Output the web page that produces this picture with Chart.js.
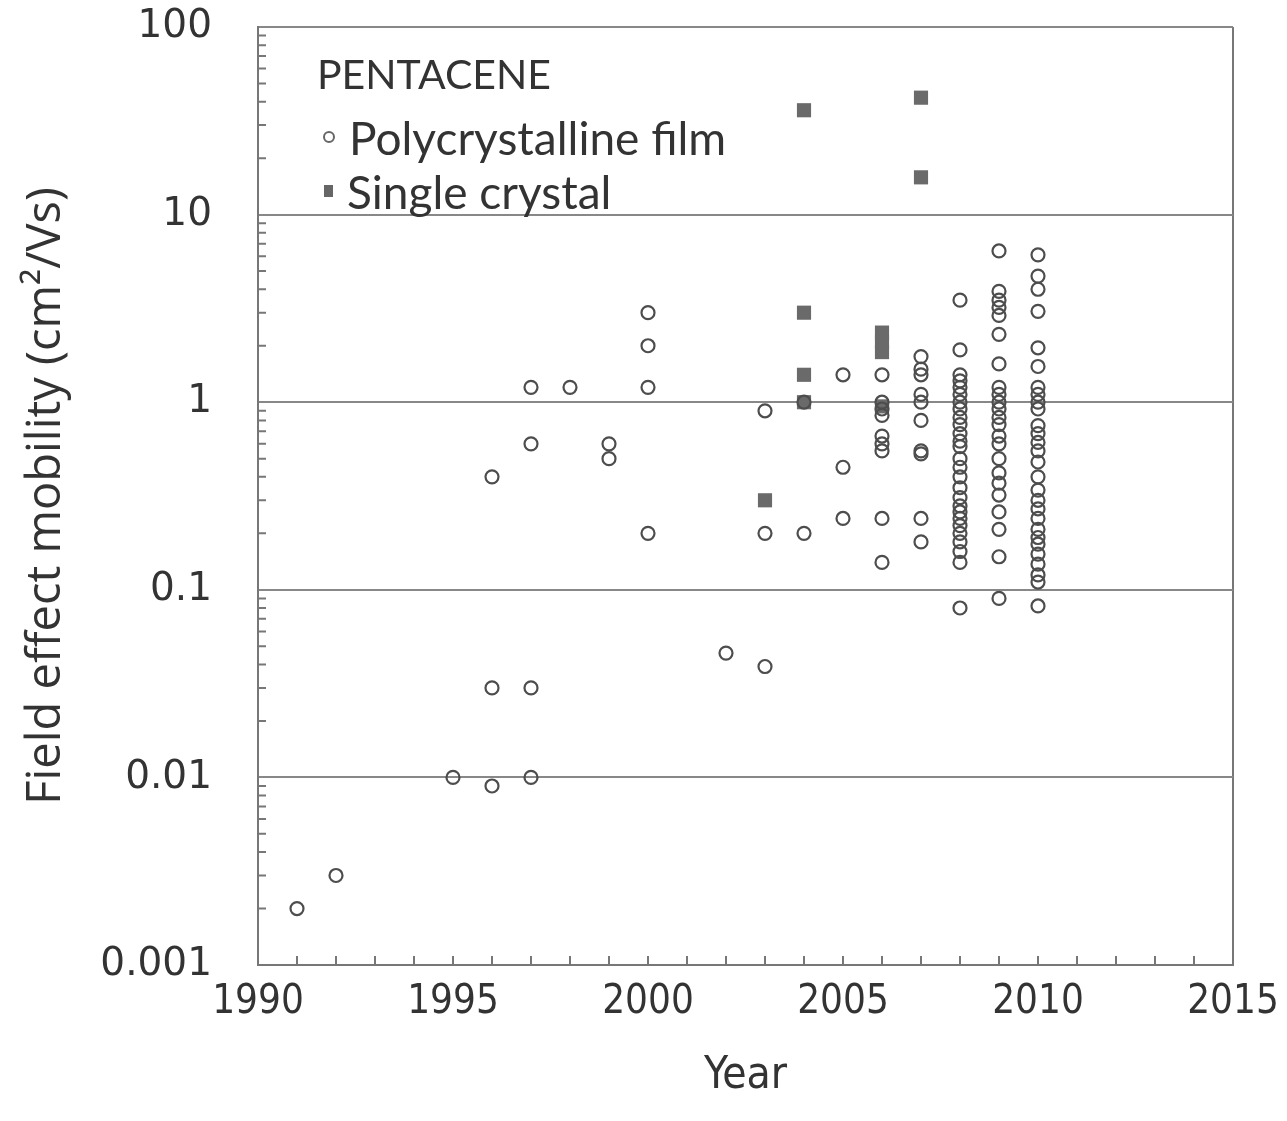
<!DOCTYPE html>
<html>
<head>
<meta charset="utf-8">
<script src="https://cdn.jsdelivr.net/npm/chart.js@4/dist/chart.umd.min.js"></script>
<style>
  body { margin: 0; background: #fff; }
  #wrap { position: relative; width: 1287px; height: 1121px; }
  #legend { position: absolute; left: 0; top: 0; font-family: Lato, "Open Sans", sans-serif; color: #333; }
  .row { position: absolute; height: 50px; display: flex; align-items: center; white-space: nowrap; }
  .circle { width: 8px; height: 8px; border: 2px solid #666; border-radius: 50%; margin-right: 14px; }
  .square { width: 9px; height: 12px; background: #666; margin-right: 14px; }
</style>
</head>
<body>
<div id="wrap">
  <canvas id="chart"></canvas>
  <div id="legend">
    <div class="row" style="left:317px; top:48px; font-size:41px;">PENTACENE</div>
    <div class="row" style="left:323px; top:112px; font-size:46px;"><span class="circle"></span>Polycrystalline film</div>
    <div class="row" style="left:324px; top:166px; font-size:46px;"><span class="square"></span>Single crystal</div>
  </div>
</div>
<script>
// polycrystalline film: years and mobility values read for each year
const polyYears = [1991, 1992, 1995, 1996, 1997, 1998, 1999, 2000, 2002, 2003, 2004, 2005, 2006, 2007, 2008, 2009, 2010];
const polyValues = [
    [0.002],
    [0.003],
    [0.01],
    [0.4, 0.03, 0.009],
    [1.2, 0.6, 0.03, 0.01],
    [1.2],
    [0.6, 0.5],
    [3.0, 2.0, 1.2, 0.2],
    [0.046],
    [0.9, 0.2, 0.039],
    [1.0, 0.2],
    [1.4, 0.45, 0.24],
    [1.4, 1.0, 0.92, 0.85, 0.66, 0.6, 0.55, 0.24, 0.14],
    [1.75, 1.5, 1.4, 1.1, 1.0, 0.8, 0.55, 0.53, 0.24, 0.18],
    [3.5, 1.9, 1.4, 1.3, 1.2, 1.1, 1.0, 0.92, 0.83, 0.76, 0.68, 0.62, 0.58, 0.5, 0.45, 0.4, 0.35, 0.31, 0.28, 0.26, 0.24, 0.22, 0.2, 0.18, 0.16, 0.14, 0.08],
    [6.4, 3.9, 3.5, 3.2, 2.9, 2.3, 1.6, 1.2, 1.1, 1.0, 0.92, 0.83, 0.76, 0.66, 0.6, 0.5, 0.42, 0.37, 0.32, 0.26, 0.21, 0.15, 0.09],
    [6.1, 4.7, 4.0, 3.05, 1.95, 1.55, 1.2, 1.1, 1.0, 0.92, 0.75, 0.68, 0.61, 0.55, 0.48, 0.4, 0.34, 0.3, 0.27, 0.24, 0.21, 0.19, 0.175, 0.155, 0.137, 0.12, 0.11, 0.082]
];

// single crystal
const singleYears = [2003, 2004, 2006, 2007];
const singleValues = [
    [0.3],
    [36, 3.0, 1.4, 1.0],
    [2.35, 2.1, 1.85, 0.95],
    [42, 15.8]
];

const xTickValues = [1990, 1995, 2000, 2005, 2010, 2015];
const yTickValues = [0.001, 0.01, 0.1, 1, 10, 100];

function toPoints(years, values) {
    const pts = [];
    years.forEach((yr, i) => values[i].forEach(v => pts.push({ x: yr, y: v })));
    return pts;
}

const narrow = '"Liberation Sans Narrow", "DejaVu Sans Condensed", sans-serif';

// small tick marks drawn inside the plot, like the original
const innerTicks = {
    id: 'innerTicks',
    afterDraw(chart) {
        const { ctx, chartArea, scales: { x, y } } = chart;
        ctx.save();
        ctx.strokeStyle = '#777';
        ctx.lineWidth = 2;
        ctx.beginPath();
        for (let yr = 1991; yr < 2015; yr++) {
            const px = x.getPixelForValue(yr);
            ctx.moveTo(px, chartArea.bottom);
            ctx.lineTo(px, chartArea.bottom - 9);
        }
        for (let d = -3; d <= 1; d++) {
            for (let m = 2; m <= 9; m++) {
                const py = y.getPixelForValue(m * Math.pow(10, d));
                ctx.moveTo(chartArea.left, py);
                ctx.lineTo(chartArea.left + 8, py);
            }
        }
        ctx.stroke();
        ctx.restore();
    }
};

const ctx = document.getElementById('chart').getContext('2d');
new Chart(ctx, {
    type: 'scatter',
    data: {
        datasets: [
            {
                label: 'Polycrystalline film',
                data: toPoints(polyYears, polyValues),
                pointStyle: 'circle',
                pointRadius: 6.5,
                borderWidth: 2.2,
                borderColor: '#4d4d4d',
                backgroundColor: 'rgba(255,255,255,0)',
                order: 1
            },
            {
                label: 'Single crystal',
                data: toPoints(singleYears, singleValues),
                pointStyle: 'rect',
                pointRadius: 10,
                borderWidth: 0,
                backgroundColor: '#6a6a6a',
                order: 2
            }
        ]
    },
    options: {
        responsive: true,
        maintainAspectRatio: false,
        animation: false,
        layout: { padding: { top: 27, right: 54, left: 0, bottom: 0 } },
        plugins: { legend: { display: false }, tooltip: { enabled: false } },
        scales: {
            x: {
                type: 'linear',
                min: 1990,
                max: 2015,
                afterBuildTicks: (scale) => { scale.ticks = xTickValues.map(v => ({ value: v })); },
                afterFit: (scale) => {
                    scale.height = 156;
                    scale.paddingLeft = 0;
                    scale.paddingRight = 0;
                },
                ticks: {
                    color: '#333',
                    padding: 14,
                    maxRotation: 0,
                    font: { family: narrow, size: 40 },
                    callback: (v) => String(v)
                },
                grid: {
                    drawTicks: false,
                    lineWidth: 2,
                    color: (c) => c.tick && c.tick.value === 2015 ? '#777' : 'rgba(0,0,0,0)'
                },
                border: { color: '#777', width: 2 },
                title: {
                    display: true,
                    text: 'Year',
                    color: '#333',
                    font: { family: narrow, size: 44 },
                    padding: { top: 0, bottom: 18 }
                }
            },
            y: {
                type: 'logarithmic',
                min: 0.001,
                max: 100,
                afterBuildTicks: (scale) => { scale.ticks = yTickValues.map(v => ({ value: v })); },
                afterFit: (scale) => {
                    scale.width = 258;
                    scale.paddingTop = 0;
                    scale.paddingBottom = 0;
                },
                ticks: {
                    color: '#333',
                    padding: 46,
                    font: { family: '"DejaVu Sans", sans-serif', size: 39 },
                    callback: (v) => String(v)
                },
                grid: {
                    drawTicks: false,
                    lineWidth: 2,
                    color: '#888'
                },
                border: { color: '#777', width: 2 },
                title: {
                    display: true,
                    text: 'Field effect mobility (cm²/Vs)',
                    color: '#333',
                    font: { family: '"Open Sans", Lato, sans-serif', size: 47 },
                    padding: { top: 18, bottom: 0 }
                }
            }
        }
    },
    plugins: [innerTicks]
});
</script>
</body>
</html>
